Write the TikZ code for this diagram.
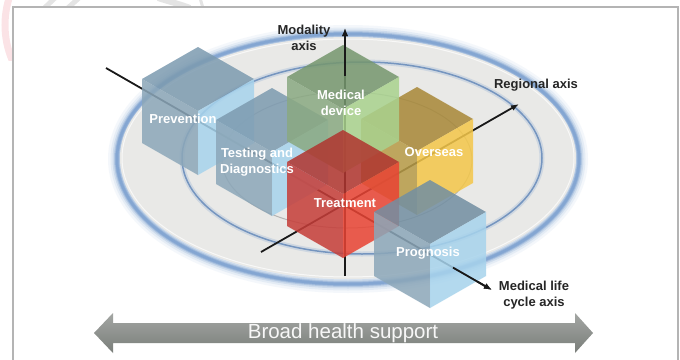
\documentclass[tikz,border=0pt]{standalone}
\usepackage{fontspec}
\setmainfont{Liberation Sans}
\usetikzlibrary{arrows.meta}
\definecolor{ringblue}{HTML}{7FA2D0}
\definecolor{disc}{HTML}{E9E9E7}
\definecolor{btop}{HTML}{7D9BB0}
\definecolor{bleft}{HTML}{8CA7B9}
\definecolor{bright}{HTML}{A7D3EC}
\definecolor{gtop}{HTML}{76976F}
\definecolor{gleft}{HTML}{8AA982}
\definecolor{gright}{HTML}{A9D28E}
\definecolor{ytop}{HTML}{A88838}
\definecolor{yleft}{HTML}{B89C48}
\definecolor{yright}{HTML}{F4C74A}
\definecolor{rtop}{HTML}{B03630}
\definecolor{rleft}{HTML}{C63E39}
\definecolor{rright}{HTML}{E84434}
\definecolor{framegray}{HTML}{B4B4B4}
\definecolor{wmgray}{HTML}{E4E4E4}
\definecolor{wmpink}{HTML}{FBE3E6}
\definecolor{arrtop}{HTML}{A3A6A3}
\definecolor{arrbot}{HTML}{7A7E7A}
\newcommand{\drawcube}[5]{%
  \fill[#3, fill opacity=0.86] (#1,#2) -- ++(-56,-32) -- ++(56,-32) -- ++(56,32) -- cycle;
  \fill[#4, fill opacity=0.86] (#1,#2) -- ++(-56,-32) -- ++(0,64) -- ++(56,32) -- cycle;
  \fill[#5, fill opacity=0.86] (#1,#2) -- ++(56,-32) -- ++(0,64) -- ++(-56,32) -- cycle;
}
\tikzset{
  cubelabel/.style={text=white, font=\bfseries\fontsize{13}{16}\selectfont, align=center, inner sep=0pt},
  axlabel/.style={text=black!85, font=\bfseries\fontsize{13}{16}\selectfont, align=center, inner sep=0pt},
  axisline/.style={draw=black!90, line width=1.8pt},
  axisarrow/.style={axisline, -{Latex[length=8pt,width=6pt]}}
}
\begin{document}
\begin{tikzpicture}[x=1pt,y=-1pt]
\useasboundingbox (0,0) rectangle (680,359);
% watermark fragments
\begin{scope}
  \clip (0,0) rectangle (12,60);
  \draw[wmpink, line width=7pt] (95,25) circle [radius=90pt];
\end{scope}
\begin{scope}
  \clip (0,0) rectangle (680,6.5);
  \draw[wmgray, line width=5pt] (38,14) -- (55,-2);
  \draw[wmgray, line width=5pt] (61,14) -- (79,-2);
  \draw[wmgray, line width=6pt] (158,-2) .. controls (170,2) and (180,4) .. (190,8);
  \draw[wmgray, line width=3pt] (200,-2) -- (203,8);
\end{scope}
% frame
\fill[white] (13,7) rectangle (678,370);
\draw[framegray, line width=1.5pt] (13,370) -- (13,7) -- (678,7) -- (678,370);
% disc with glowing outer ring
\foreach \w/\o in {18/0.08,13/0.13,9/0.22,6/0.35,4/0.55,2.5/0.75}
  \draw[ringblue, line width=\w pt, opacity=\o] (348,159) ellipse [x radius=231pt, y radius=125pt];
\fill[disc] (348,158) ellipse [x radius=228pt, y radius=121pt];
\draw[white, line width=1pt, opacity=0.7] (348,158) ellipse [x radius=226pt, y radius=119pt];
% middle ring
\draw[ringblue, line width=5pt, opacity=0.25] (362,158) ellipse [x radius=180pt, y radius=96pt];
\draw[ringblue!92!black, line width=1.5pt] (362,158) ellipse [x radius=180pt, y radius=96pt];
% inner faint ring
\draw[gray, line width=1pt, opacity=0.5] (347,160) ellipse [x radius=125pt, y radius=68pt];
% axes (under cubes)
\coordinate (mB) at (345,276);
\coordinate (mT) at (345,28);
\coordinate (mMid) at (345,76);
\coordinate (rS) at (261,252);
\coordinate (rE) at (519,104);
\coordinate (lS) at (106,68);
\coordinate (lE) at (492,290);
\coordinate (lMid) at (453,267.6);
\draw[axisarrow] (mB) -- (mT);
\draw[axisarrow] (rS) -- (rE);
\draw[axisarrow] (lS) -- (lE);
% cubes
\drawcube{417}{151}{ytop}{yleft}{yright}
\drawcube{198}{111}{btop}{bleft}{bright}
\drawcube{272}{152}{btop}{bleft}{bright}
\drawcube{343}{109}{gtop}{gleft}{gright}
\drawcube{343}{194}{rtop}{rleft}{rright}
\drawcube{430}{244}{btop!92!black}{bleft}{bright}
% axis parts in front
\draw[axisarrow] (mMid) -- (mT);
\draw[axisarrow] (lMid) -- (lE);
% labels
\node[cubelabel] (prev) at (183,119) {Prevention};
\node[cubelabel] (test) at (257,162) {Testing and\\Diagnostics};
\node[cubelabel] (med) at (341,103) {Medical\\device};
\node[cubelabel] (ovs) at (434,152) {Overseas};
\node[cubelabel] (trt) at (345,203) {Treatment};
\node[cubelabel] (prog) at (428,253) {Prognosis};
\node[axlabel] (modl) at (304,38) {Modality\\axis};
\node[axlabel] (regl) at (536,85) {Regional axis};
\node[axlabel] (lcl) at (534,295) {Medical life\\cycle axis};
% broad health support arrow
\shade[top color=arrtop, bottom color=arrbot]
  (94,333) -- (113,313) -- (113,323) -- (575,323) -- (575,313) -- (593,333)
  -- (575,353) -- (575,343) -- (113,343) -- (113,353) -- cycle;
\node[text=white!94!gray, font=\fontsize{20.5}{24}\selectfont, inner sep=0pt] (bhs) at (343,333) {Broad health support};
\end{tikzpicture}
\end{document}
